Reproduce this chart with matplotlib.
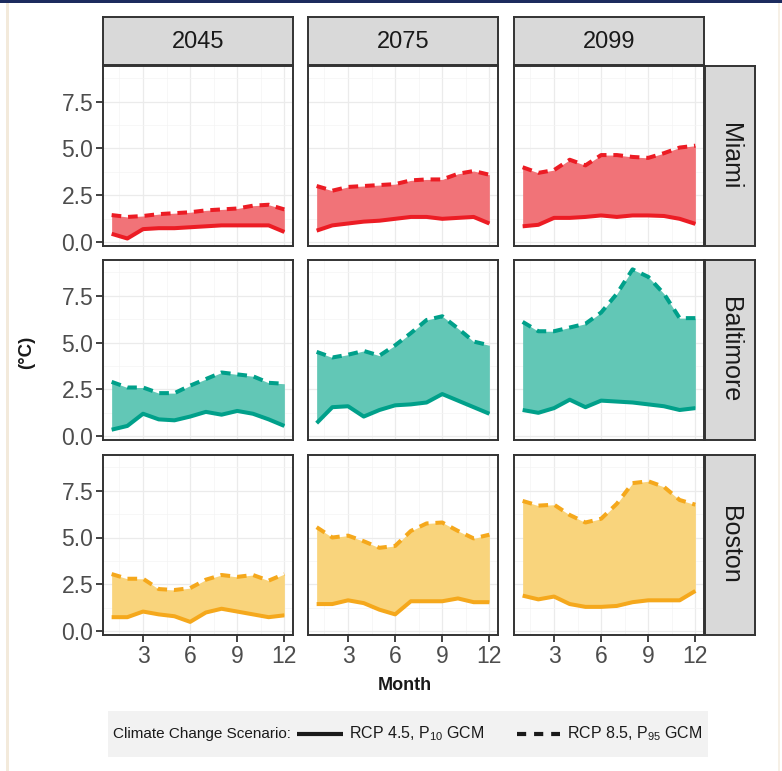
import matplotlib
matplotlib.use("Agg")
import matplotlib.pyplot as plt
from matplotlib.patches import Rectangle
from matplotlib.lines import Line2D

plt.rcParams["mathtext.fontset"] = "custom"
plt.rcParams["mathtext.rm"] = "Liberation Sans"
plt.rcParams["mathtext.it"] = "Liberation Sans"

# ---------------------------------------------------------------- data
months = list(range(1, 13))
years = ["2045", "2075", "2099"]
cities = ["Miami", "Baltimore", "Boston"]
y_ticks = [0.0, 2.5, 5.0, 7.5]
y_tick_labels = ["0.0", "2.5", "5.0", "7.5"]
x_ticks = [3, 6, 9, 12]

# lower edge: RCP 4.5, P10 GCM ; upper edge: RCP 8.5, P95 GCM  (degrees C)
miami_2045_low = [0.45, 0.2, 0.7, 0.75, 0.75, 0.8, 0.85, 0.9, 0.9, 0.9, 0.9, 0.55]
miami_2045_high = [1.45, 1.35, 1.4, 1.5, 1.55, 1.6, 1.7, 1.75, 1.8, 1.95, 2.0, 1.75]
miami_2075_low = [0.62, 0.9, 1.0, 1.1, 1.15, 1.25, 1.35, 1.35, 1.25, 1.3, 1.35, 1.0]
miami_2075_high = [3.0, 2.75, 2.95, 3.0, 3.05, 3.1, 3.3, 3.35, 3.35, 3.65, 3.8, 3.6]
miami_2099_low = [0.85, 0.93, 1.3, 1.3, 1.35, 1.43, 1.35, 1.43, 1.43, 1.4, 1.25, 0.98]
miami_2099_high = [4.0, 3.7, 3.85, 4.4, 4.1, 4.65, 4.65, 4.55, 4.5, 4.75, 5.05, 5.15]

baltimore_2045_low = [0.35, 0.55, 1.2, 0.9, 0.85, 1.05, 1.3, 1.15, 1.35, 1.2, 0.9, 0.55]
baltimore_2045_high = [2.9, 2.6, 2.6, 2.3, 2.3, 2.7, 3.05, 3.4, 3.3, 3.2, 2.85, 2.8]
baltimore_2075_low = [0.7, 1.55, 1.6, 1.05, 1.4, 1.65, 1.7, 1.8, 2.25, 1.9, 1.55, 1.2]
baltimore_2075_high = [4.5, 4.2, 4.35, 4.55, 4.3, 4.85, 5.5, 6.2, 6.4, 5.75, 5.05, 4.85]
baltimore_2099_low = [1.4, 1.25, 1.5, 1.95, 1.55, 1.9, 1.85, 1.8, 1.7, 1.6, 1.4, 1.5]
baltimore_2099_high = [6.1, 5.6, 5.6, 5.8, 6.0, 6.6, 7.6, 8.9, 8.5, 7.6, 6.3, 6.3]

boston_2045_low = [0.75, 0.75, 1.05, 0.9, 0.8, 0.5, 1.0, 1.2, 1.05, 0.9, 0.75, 0.85]
boston_2045_high = [3.05, 2.8, 2.8, 2.25, 2.2, 2.3, 2.75, 3.0, 2.9, 3.0, 2.7, 3.05]
boston_2075_low = [1.45, 1.45, 1.65, 1.5, 1.15, 0.9, 1.6, 1.6, 1.6, 1.75, 1.55, 1.55]
boston_2075_high = [5.55, 5.0, 5.1, 4.8, 4.45, 4.55, 5.35, 5.75, 5.8, 5.35, 4.95, 5.15]
boston_2099_low = [1.9, 1.7, 1.85, 1.45, 1.3, 1.3, 1.35, 1.55, 1.65, 1.65, 1.65, 2.15]
boston_2099_high = [6.95, 6.7, 6.75, 6.2, 5.8, 6.0, 6.8, 7.9, 8.0, 7.7, 7.0, 6.75]

bands = {
    "Miami": [(miami_2045_low, miami_2045_high),
              (miami_2075_low, miami_2075_high),
              (miami_2099_low, miami_2099_high)],
    "Baltimore": [(baltimore_2045_low, baltimore_2045_high),
                  (baltimore_2075_low, baltimore_2075_high),
                  (baltimore_2099_low, baltimore_2099_high)],
    "Boston": [(boston_2045_low, boston_2045_high),
               (boston_2075_low, boston_2075_high),
               (boston_2099_low, boston_2099_high)],
}

line_colors = {"Miami": "#EC1C24", "Baltimore": "#00A08A", "Boston": "#F5A81C"}
fill_colors = {"Miami": "#F17378", "Baltimore": "#62C7B6", "Boston": "#F9D47C"}

# ---------------------------------------------------------------- layout (pixels)
W, H = 782, 771
fig = plt.figure(figsize=(W / 100, H / 100), dpi=100)
fig.patch.set_facecolor("white")


def box(x, y, w, h):
    return [x / W, 1 - (y + h) / H, w / W, h / H]


col_x = [103, 308, 514]
row_y = [66, 260, 455]
pw, ph = 190, 180
strip_top_y, strip_h = 17, 48
strip_right_x, strip_w = 705, 50

sans = ["Liberation Sans", "DejaVu Sans"]
edge = "#333333"

# page decorations
fig.add_artist(Rectangle((0, 1 - 3 / H), 1, 3 / H, transform=fig.transFigure,
                         facecolor="#1C2B5E", edgecolor="none"))
fig.add_artist(Rectangle((6 / W, 0), 2.5 / W, 1 - 3 / H, transform=fig.transFigure,
                         facecolor="#F3EADB", edgecolor="none"))
fig.add_artist(Rectangle((778 / W, 0), 1.5 / W, 1 - 3 / H, transform=fig.transFigure,
                         facecolor="#F6F0E6", edgecolor="none"))

for r, city in enumerate(cities):
    for c, year in enumerate(years):
        ax = fig.add_axes(box(col_x[c], row_y[r], pw, ph))
        low, high = bands[city][c]
        ax.fill_between(months, low, high, color=fill_colors[city], lw=0, zorder=2)
        ax.plot(months, low, color=line_colors[city], lw=2.9,
                solid_capstyle="butt", solid_joinstyle="round", zorder=3)
        ax.plot(months, high, color=line_colors[city], lw=2.9, dashes=(2.4, 1.7),
                dash_capstyle="butt", zorder=3)
        ax.set_xlim(0.45, 12.55)
        ax.set_ylim(-0.2, 9.4)
        ax.set_xticks(x_ticks)
        ax.set_yticks(y_ticks)
        ax.set_xticks([1.5, 4.5, 7.5, 10.5], minor=True)
        ax.set_yticks([1.25, 3.75, 6.25, 8.75], minor=True)
        ax.grid(True, which="major", color="#EBEBEB", lw=0.9, zorder=0)
        ax.grid(True, which="minor", color="#F4F4F4", lw=0.5, zorder=0)
        ax.set_axisbelow(True)
        ax.tick_params(which="minor", length=0)
        ax.tick_params(which="major", direction="out", length=5, width=1.3,
                       color=edge, labelsize=16.5, labelcolor="#4D4D4D", pad=2)
        for s in ax.spines.values():
            s.set_color(edge)
            s.set_linewidth(1.4)
        if c == 0:
            ax.set_yticklabels(y_tick_labels, family=sans)
        else:
            ax.tick_params(axis="y", which="both", left=False, labelleft=False)
        if r == len(cities) - 1:
            ax.set_xticklabels([str(t) for t in x_ticks], family=sans)
        else:
            ax.tick_params(axis="x", which="both", bottom=False, labelbottom=False)

        # year strip above the top row
        if r == 0:
            sax = fig.add_axes(box(col_x[c], strip_top_y, pw, strip_h))
            sax.set_facecolor("#D9D9D9")
            sax.set_xticks([])
            sax.set_yticks([])
            for s in sax.spines.values():
                s.set_color(edge)
                s.set_linewidth(1.4)
            sax.text(0.5, 0.48, year, ha="center", va="center", fontsize=17,
                     color="#1A1A1A", family=sans, transform=sax.transAxes)

    # city strip on the right of each row
    rax = fig.add_axes(box(strip_right_x, row_y[r], strip_w, ph))
    rax.set_facecolor("#D9D9D9")
    rax.set_xticks([])
    rax.set_yticks([])
    for s in rax.spines.values():
        s.set_color(edge)
        s.set_linewidth(1.4)
    rax.text(0.5, 0.5, city, ha="center", va="center", rotation=-90,
             fontsize=18, color="#1A1A1A", family=sans, transform=rax.transAxes)

# axis titles
fig.text(405 / W, 1 - 685 / H, "Month", ha="center", va="center",
         fontsize=13, fontweight="bold", color="#1A1A1A", family=sans)
fig.text(27 / W, 1 - 352 / H, "(°C)", ha="center", va="center", rotation=90,
         fontsize=13.5, fontweight="bold", color="#1A1A1A", family=sans)

# legend
fig.add_artist(Rectangle((108 / W, 1 - 757 / H), 600 / W, 46 / H,
                         transform=fig.transFigure, facecolor="#F2F2F2",
                         edgecolor="none"))
ly = 1 - 734 / H
fig.text(113 / W, ly, "Climate Change Scenario:", ha="left", va="center",
         fontsize=11, color="#1A1A1A", family=sans)
fig.add_artist(Line2D([297 / W, 343 / W], [ly, ly], transform=fig.transFigure,
                      color="#1A1A1A", lw=3.0, solid_capstyle="butt"))
fig.text(349 / W, ly, r"RCP 4.5, P$_{10}$ GCM", ha="left", va="center",
         fontsize=11.5, color="#1A1A1A", family=sans)
fig.add_artist(Line2D([517 / W, 560 / W], [ly, ly], transform=fig.transFigure,
                      color="#1A1A1A", lw=3.0, dashes=(2.2, 1.9),
                      dash_capstyle="butt"))
fig.text(567 / W, ly, r"RCP 8.5, P$_{95}$ GCM", ha="left", va="center",
         fontsize=11.5, color="#1A1A1A", family=sans)

fig.savefig("out.png", dpi=100, facecolor="white")
